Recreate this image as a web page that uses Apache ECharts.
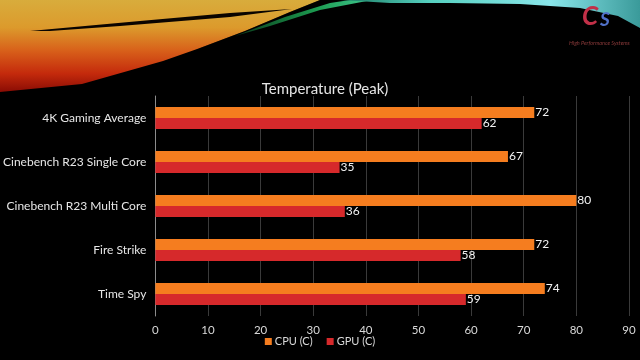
<!DOCTYPE html>
<html><head><meta charset="utf-8">
<script src="https://cdn.jsdelivr.net/npm/echarts@6/dist/echarts.min.js"></script>
<style>html,body{margin:0;padding:0;background:#000}#c{width:640px;height:360px}</style>
</head><body><div id="c"></div>
<script>
var categories = ['4K Gaming Average', 'Cinebench R23 Single Core', 'Cinebench R23 Multi Core', 'Fire Strike', 'Time Spy'];
var cpuValues = [72, 67, 80, 72, 74];
var gpuValues = [62, 35, 36, 58, 59];
var xTicks = [0, 10, 20, 30, 40, 50, 60, 70, 80, 90];

var font = 'Lato, "Open Sans", sans-serif';
var chart = echarts.init(document.getElementById('c'));
chart.setOption({
  backgroundColor: '#000',
  animation: false,
  title: {
    text: 'Temperature (Peak)', left: 320, top: 77, textAlign: 'center',
    textStyle: { color: '#e6e6e6', fontSize: 15, fontWeight: 'normal', fontFamily: font }
  },
  graphic: [
    { type: 'polygon', z: -1, silent: true,
      shape: { points: [[0,0],[320,0],[290,12],[245,31],[200,48],[163,61],[82,84],[0,92]] },
      style: { fill: new echarts.graphic.LinearGradient(0, 0, 0, 1, [
        { offset: 0, color: '#d8ac3c' }, { offset: 0.3, color: '#dc9a2c' }, { offset: 0.55, color: '#d8601a' },
        { offset: 0.8, color: '#c42a0c' }, { offset: 1, color: '#8a0c04' }]) } },
    { type: 'polygon', z: -1, silent: true,
      shape: { points: [[120,92],[200,48],[245,31],[290,12],[320,0],[340,0],[300,14],[250,36],[190,62]] },
      style: { fill: 'rgba(0,0,0,0.45)' } },
    { type: 'polygon', z: -1, silent: true,
      shape: { points: [[30,31],[140,21],[230,13],[292,9],[230,17],[120,26],[50,31]] },
      style: { fill: '#0a0400' } },
    { type: 'polygon', z: -1, silent: true,
      shape: { points: [[235,36],[285,17],[330,3],[350,0],[372,0],[320,10],[270,26]] },
      style: { fill: new echarts.graphic.LinearGradient(0, 1, 1, 0, [
        { offset: 0, color: '#0a3a1a' }, { offset: 0.6, color: '#1c9a50' }, { offset: 1, color: '#40c890' }]) } },
    { type: 'polygon', z: -1, silent: true,
      shape: { points: [[340,0],[640,0],[640,28],[618,16],[580,8],[520,4],[450,3],[390,3]] },
      style: { fill: new echarts.graphic.LinearGradient(0, 0, 1, 0, [
        { offset: 0, color: '#1a7a60' }, { offset: 0.3, color: '#56d0c0' }, { offset: 0.7, color: '#8ae6ea' }, { offset: 1, color: '#3a9a9a' }]) } },
    { type: 'text', left: 582, top: 4, silent: true,
      style: { text: 'C', fill: '#c23048', font: 'italic bold 26px ' + font } },
    { type: 'text', left: 600, top: 10, silent: true,
      style: { text: 'S', fill: '#5070c8', font: 'italic bold 19px ' + font } },
    { type: 'text', left: 569, top: 40, silent: true,
      style: { text: 'High Performance Systems', fill: '#8a3a3a', font: 'italic 5.5px ' + font } }
  ],
  legend: {
    data: ['CPU (C)', 'GPU (C)'], bottom: 8, left: 'center',
    itemWidth: 7, itemHeight: 7, itemGap: 14, icon: 'rect',
    textStyle: { color: '#d9d9d9', fontSize: 11, fontFamily: font, padding: [0, 0, 0, -2] }
  },
  grid: { left: 155, right: 11, top: 96, bottom: 44, containLabel: false },
  xAxis: {
    type: 'value', min: 0, max: 90, interval: 10,
    axisLine: { show: false }, axisTick: { show: false },
    splitLine: { show: true, lineStyle: { color: '#3a3a3a', width: 1 } },
    axisLabel: { color: '#d9d9d9', fontSize: 11.5, fontFamily: font, margin: 8,
      formatter: function (v) { return xTicks.indexOf(v) >= 0 ? String(v) : ''; } }
  },
  yAxis: {
    type: 'category', data: categories, inverse: true,
    axisLine: { show: true, lineStyle: { color: '#8c8c8c' } }, axisTick: { show: false },
    axisLabel: { color: '#e6e6e6', fontSize: 12, fontFamily: font, margin: 9 }
  },
  series: [
    { name: 'CPU (C)', type: 'bar', data: cpuValues, barGap: '0%', barCategoryGap: '50%',
      itemStyle: { color: '#f57d1f' },
      label: { show: true, position: 'right', distance: 1, color: '#f2f2f2', fontSize: 12, fontFamily: font } },
    { name: 'GPU (C)', type: 'bar', data: gpuValues,
      itemStyle: { color: '#d6292b' },
      label: { show: true, position: 'right', distance: 1, color: '#f2f2f2', fontSize: 12, fontFamily: font } }
  ]
});
</script></body></html>
